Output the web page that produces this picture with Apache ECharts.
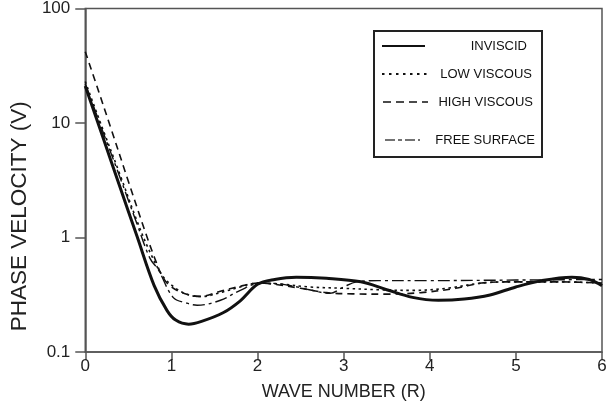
<!DOCTYPE html>
<html>
<head>
<meta charset="utf-8">
<script src="https://cdn.jsdelivr.net/npm/echarts@6/dist/echarts.min.js"></script>
<style>
html,body{margin:0;padding:0;background:#fff;}
#chart{width:611px;height:410px;}
</style>
</head>
<body>
<div id="chart"></div>
<script>
// ---- data ----
var seriesNames = ['INVISCID', 'LOW VISCOUS', 'HIGH VISCOUS', 'FREE SURFACE'];
var xTicks = [0, 1, 2, 3, 4, 5, 6];
var yTicks = [0.1, 1, 10, 100];

var invX = [0, 0.2, 0.4, 0.6, 0.8, 0.95, 1.05, 1.2, 1.35, 1.6, 1.8, 2.0, 2.2, 2.45, 2.8, 3.2, 3.5, 3.8, 4.1, 4.4, 4.7, 5.0, 5.3, 5.65, 5.85, 6.0];
var invV = [21, 7.7, 2.8, 1.03, 0.38, 0.23, 0.19, 0.175, 0.185, 0.22, 0.28, 0.39, 0.43, 0.45, 0.44, 0.41, 0.35, 0.30, 0.283, 0.29, 0.315, 0.37, 0.42, 0.45, 0.43, 0.38];

var lowX = [0, 0.2, 0.4, 0.6, 0.75, 0.9, 1.05, 1.2, 1.35, 1.6, 1.8, 2.0, 2.3, 2.6, 3.0, 3.4, 3.8, 4.2, 4.6, 5.0, 5.5, 6.0];
var lowV = [23, 9.0, 3.6, 1.4, 0.75, 0.46, 0.36, 0.315, 0.305, 0.335, 0.37, 0.40, 0.39, 0.37, 0.36, 0.35, 0.345, 0.36, 0.40, 0.41, 0.41, 0.40];

var highX = [0, 0.15, 0.3, 0.5, 0.7, 0.8, 0.9, 1.0, 1.15, 1.33, 1.6, 1.83, 2.0, 2.2, 2.5, 2.8, 3.1, 3.5, 3.9, 4.3, 4.6, 4.9, 5.5, 6.0];
var highV = [42, 19.4, 8.9, 3.1, 1.1, 0.68, 0.45, 0.37, 0.325, 0.306, 0.345, 0.38, 0.40, 0.39, 0.36, 0.33, 0.322, 0.32, 0.33, 0.36, 0.40, 0.41, 0.41, 0.40];

var freeX = [0, 0.2, 0.4, 0.6, 0.75, 0.85, 1.02, 1.18, 1.3, 1.57, 1.8, 2.03, 2.3, 2.6, 2.84, 3.0, 3.15, 3.4, 4.0, 5.0, 6.0];
var freeV = [22, 8.6, 3.4, 1.32, 0.66, 0.52, 0.30, 0.267, 0.256, 0.283, 0.346, 0.40, 0.39, 0.35, 0.325, 0.37, 0.41, 0.42, 0.42, 0.425, 0.43];

function pairs(xs, vs) { return xs.map(function (x, i) { return [x, vs[i]]; }); }

var FONT = "'Liberation Sans', Arial, Helvetica, sans-serif";
var AXIS_COLOR = '#555555';
var LINE_COLOR = '#111111';

var chart = echarts.init(document.getElementById('chart'), null, {renderer: 'canvas'});

var lineStyles = [
  {width: 3, type: 'solid'},
  {width: 1.6, type: [2.5, 3.5]},
  {width: 1.6, type: [7, 5]},
  {width: 1.4, type: [12, 4, 3, 4]}
];
var datasets = [pairs(invX, invV), pairs(lowX, lowV), pairs(highX, highV), pairs(freeX, freeV)];

var option = {
  backgroundColor: '#ffffff',
  animation: false,
  grid: {left: 85, right: 9, top: 7, bottom: 58, show: true, borderColor: AXIS_COLOR, borderWidth: 1.5, backgroundColor: 'transparent'},
  xAxis: {
    type: 'value', min: 0, max: 6, interval: 1,
    name: 'WAVE NUMBER (R)', nameLocation: 'middle', nameGap: 31,
    nameTextStyle: {fontFamily: FONT, fontSize: 18, color: '#222'},
    axisLine: {show: true, lineStyle: {color: AXIS_COLOR, width: 1.5}},
    axisTick: {show: true, inside: false, length: 8, lineStyle: {color: AXIS_COLOR, width: 1.5}},
    axisLabel: {fontFamily: FONT, fontSize: 17, color: '#222', margin: 6,
      formatter: function (v) { return xTicks.indexOf(v) >= 0 ? String(v) : ''; }},
    splitLine: {show: false}
  },
  yAxis: {
    type: 'log', logBase: 10, min: 0.1, max: 100,
    name: 'PHASE VELOCITY (V)', nameLocation: 'middle', nameGap: 45,
    nameTextStyle: {fontFamily: FONT, fontSize: 22.5, color: '#222', padding: [0, 72, 0, 0]},
    axisLine: {show: true, lineStyle: {color: AXIS_COLOR, width: 1.5}},
    axisTick: {show: true, inside: false, length: 10, lineStyle: {color: AXIS_COLOR, width: 1.5}},
    minorTick: {show: false},
    axisLabel: {fontFamily: FONT, fontSize: 17, color: '#222', margin: 15,
      formatter: function (v) {
        for (var i = 0; i < yTicks.length; i++) { if (Math.abs(v - yTicks[i]) < 1e-9 * yTicks[i] + 1e-12) return String(yTicks[i]); }
        return '';
      }},
    splitLine: {show: false}
  },
  series: seriesNames.map(function (name, i) {
    return {
      name: name, type: 'line', data: datasets[i], showSymbol: false, symbol: 'none',
      smooth: 0.35, clip: true,
      lineStyle: {color: LINE_COLOR, width: lineStyles[i].width, type: lineStyles[i].type},
      z: 10 - i
    };
  }),
  graphic: [
    {type: 'rect', shape: {x: 374, y: 31, width: 168, height: 126},
     style: {fill: '#fff', stroke: '#222', lineWidth: 2}, z: 100},
    {type: 'line', shape: {x1: 382, y1: 46, x2: 425, y2: 46}, style: {stroke: LINE_COLOR, lineWidth: 2.2}, z: 101},
    {type: 'line', shape: {x1: 382, y1: 74, x2: 428, y2: 74}, style: {stroke: LINE_COLOR, lineWidth: 2, lineDash: [2.5, 4.5]}, z: 101},
    {type: 'line', shape: {x1: 383, y1: 102, x2: 428, y2: 102}, style: {stroke: LINE_COLOR, lineWidth: 1.5, lineDash: [8, 5]}, z: 101},
    {type: 'line', shape: {x1: 385, y1: 140, x2: 420, y2: 140}, style: {stroke: '#444', lineWidth: 1.4, lineDash: [10, 3, 4, 3]}, z: 101},
    {type: 'text', x: 527, y: 46, style: {text: seriesNames[0], font: '13px ' + FONT, fill: '#111', textAlign: 'right', textVerticalAlign: 'middle'}, z: 101},
    {type: 'text', x: 532, y: 74, style: {text: seriesNames[1], font: '13px ' + FONT, fill: '#111', textAlign: 'right', textVerticalAlign: 'middle'}, z: 101},
    {type: 'text', x: 533, y: 102, style: {text: seriesNames[2], font: '13px ' + FONT, fill: '#111', textAlign: 'right', textVerticalAlign: 'middle'}, z: 101},
    {type: 'text', x: 535, y: 140, style: {text: seriesNames[3], font: '13px ' + FONT, fill: '#111', textAlign: 'right', textVerticalAlign: 'middle'}, z: 101}
  ]
};
chart.setOption(option);
</script>
</body>
</html>
